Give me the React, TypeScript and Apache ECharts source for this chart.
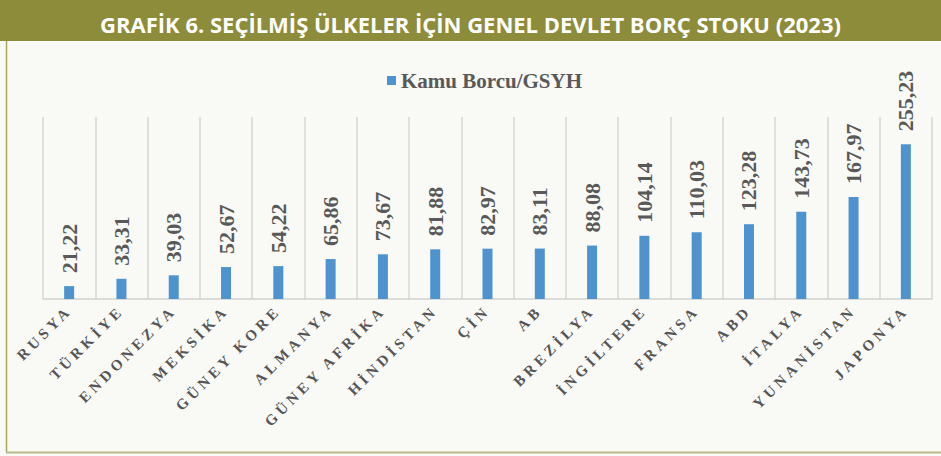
import React, { useEffect, useRef } from "react";
import * as echarts from "echarts";

const categories = [
  "RUSYA", "TÜRKİYE", "ENDONEZYA", "MEKSİKA", "GÜNEY KORE", "ALMANYA",
  "GÜNEY AFRİKA", "HİNDİSTAN", "ÇİN", "AB", "BREZİLYA", "İNGİLTERE",
  "FRANSA", "ABD", "İTALYA", "YUNANİSTAN", "JAPONYA",
];
const debtValues = [
  21.22, 33.31, 39.03, 52.67, 54.22, 65.86, 73.67, 81.88, 82.97, 83.11,
  88.08, 104.14, 110.03, 123.28, 143.73, 167.97, 255.23,
];
const seriesName = "Kamu Borcu/GSYH";
const titleText = "GRAFİK 6. SEÇİLMİŞ ÜLKELER İÇİN GENEL DEVLET BORÇ STOKU (2023)";

const cssText = `
text[style*="Tinos"] { letter-spacing: 4px; }
`;

export default function App() {
  const ref = useRef<HTMLDivElement>(null);
  useEffect(() => {
    if (!ref.current) return;
    const chart = echarts.init(ref.current, null, { renderer: "svg" });
    const serif = "'Liberation Serif', 'DejaVu Serif', serif";
    chart.setOption({
      animation: false,
      backgroundColor: "#F9F9F6",
      graphic: [
        { type: "rect", shape: { x: 0, y: 0, width: 941, height: 41 }, style: { fill: "#8C8C3A" }, z: 0 },
        { type: "line", shape: { x1: 6.5, y1: 41, x2: 6.5, y2: 452 }, style: { stroke: "#A9A95E", lineWidth: 1.5 } },
        { type: "line", shape: { x1: 6, y1: 452.5, x2: 941, y2: 452.5 }, style: { stroke: "#B9B98A", lineWidth: 2 } },
      ],
      title: {
        text: titleText,
        left: "center",
        top: 8,
        textStyle: {
          color: "#FFFFFF",
          fontSize: 22,
          fontWeight: "bold",
          fontFamily: "'Liberation Sans Narrow', 'Open Sans', sans-serif",
        },
      },
      legend: {
        top: 65,
        left: 382,
        itemWidth: 9,
        itemHeight: 9,
        icon: "rect",
        itemGap: 5,
        textStyle: { color: "#595959", fontSize: 21, fontWeight: "bold", fontFamily: serif },
        data: [seriesName],
      },
      grid: { left: 43, right: 9, top: 117, bottom: 157 },
      xAxis: {
        type: "category",
        data: categories,
        boundaryGap: true,
        axisLine: { lineStyle: { color: "#D0D0D0", width: 1.5 } },
        axisTick: { show: false },
        splitLine: { show: true, lineStyle: { color: "#D6D6D6", width: 1.5 } },
        axisLabel: {
          interval: 0,
          rotate: 45,
          margin: 9,
          color: "#555555",
          fontSize: 15,
          fontWeight: "bold",
          fontFamily: "'Liberation Serif', Tinos, serif",
        },
      },
      yAxis: {
        type: "value",
        min: 0,
        max: 300,
        show: false,
        splitLine: { show: false },
      },
      series: [
        {
          name: seriesName,
          type: "bar",
          data: debtValues,
          barWidth: 10,
          itemStyle: { color: "#4E93CD" },
          label: {
            show: true,
            position: "top",
            rotate: 90,
            align: "left",
            verticalAlign: "middle",
            distance: 13,
            color: "#595959",
            fontSize: 22,
            fontWeight: "bold",
            fontFamily: serif,
            formatter: (p: any) => p.value.toFixed(2).replace(".", ","),
          },
        },
      ],
    });
    return () => chart.dispose();
  }, []);
  return (
    <>
      <style>{cssText}</style>
      <div
        ref={ref}
        style={{ position: "fixed", left: 0, top: 0, width: 941, height: 456 }}
      />
    </>
  );
}
